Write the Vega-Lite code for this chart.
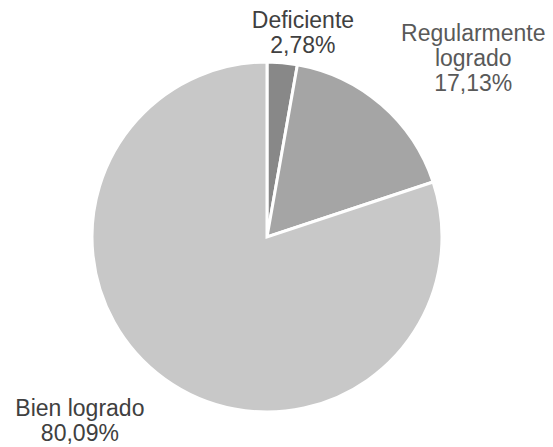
{
  "$schema": "https://vega.github.io/schema/vega-lite/v6.json",
  "width": 534,
  "height": 420,
  "autosize": {"type": "none"},
  "padding": {"left": 0, "right": 19, "top": 27, "bottom": 0},
  "background": "white",
  "config": {"view": {"stroke": null}},
  "data": {
    "values": [
      {"categoria": "Deficiente", "valor": 2.78, "orden": 1, "etiqueta": "Deficiente\n2,78%"},
      {"categoria": "Regularmente logrado", "valor": 17.13, "orden": 2, "etiqueta": "Regularmente\nlogrado\n17,13%"},
      {"categoria": "Bien logrado", "valor": 80.09, "orden": 3, "etiqueta": "Bien logrado\n80,09%"}
    ]
  },
  "encoding": {
    "theta": {"field": "valor", "type": "quantitative", "stack": true},
    "order": {"field": "orden", "type": "quantitative"}
  },
  "layer": [
    {
      "mark": {"type": "arc", "outerRadius": 175, "stroke": "white", "strokeWidth": 3},
      "encoding": {
        "color": {
          "field": "categoria",
          "type": "nominal",
          "scale": {"domain": ["Deficiente", "Regularmente logrado", "Bien logrado"], "range": ["#888888", "#a5a5a5", "#c8c8c8"]},
          "legend": null
        }
      }
    },
    {
      "mark": {"type": "text", "radius": 217, "dx": 17, "font": "Liberation Sans", "fontSize": 23, "lineHeight": 25, "lineBreak": "\n", "color": "#404040", "align": "center", "baseline": "middle"},
      "encoding": {
        "text": {"condition": {"test": "datum.categoria !== 'Deficiente'", "value": ""}, "field": "etiqueta"}
      }
    },
    {
      "mark": {"type": "text", "radius": 268, "dx": 31, "font": "Liberation Sans", "fontSize": 23, "lineHeight": 25, "lineBreak": "\n", "color": "#595959", "align": "center", "baseline": "middle"},
      "encoding": {
        "text": {"condition": {"test": "datum.categoria !== 'Regularmente logrado'", "value": ""}, "field": "etiqueta"}
      }
    },
    {
      "mark": {"type": "text", "radius": 212, "dx": -63, "font": "Liberation Sans", "fontSize": 23, "lineHeight": 25, "lineBreak": "\n", "color": "#404040", "align": "center", "baseline": "middle"},
      "encoding": {
        "text": {"condition": {"test": "datum.categoria !== 'Bien logrado'", "value": ""}, "field": "etiqueta"}
      }
    }
  ]
}
